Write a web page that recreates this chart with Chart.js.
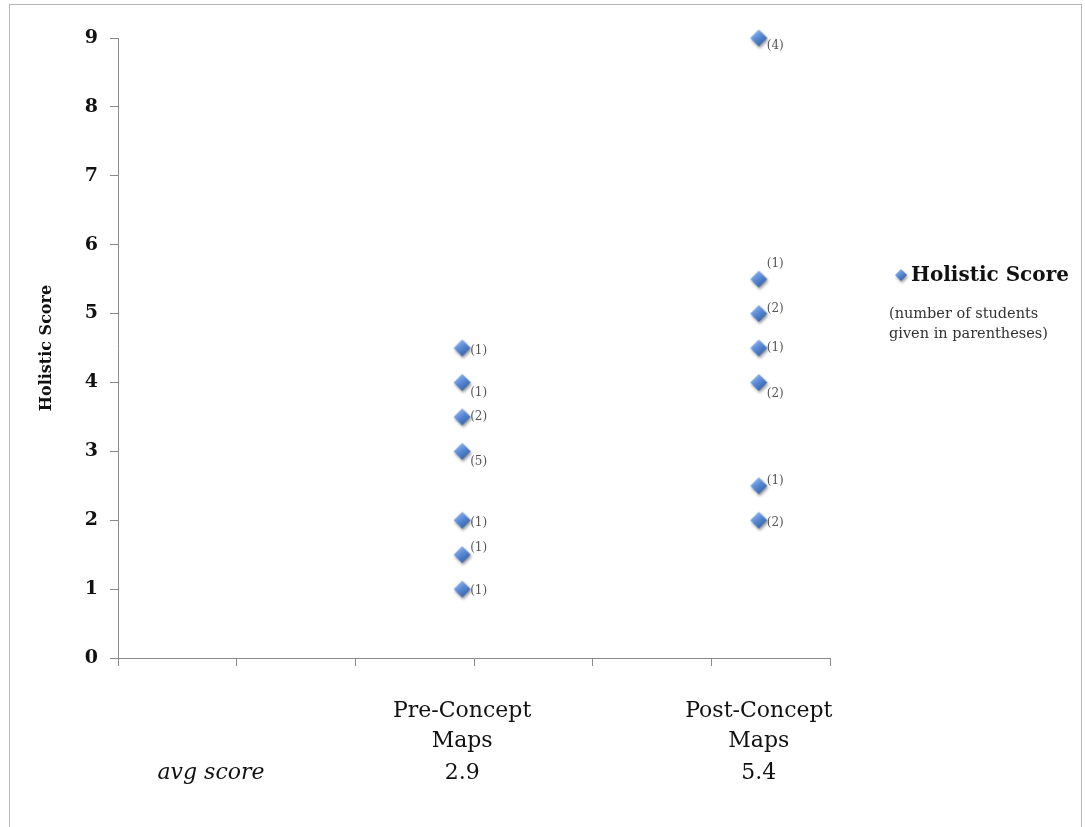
<!DOCTYPE html>
<html><head><meta charset="utf-8">
<script src="https://cdn.jsdelivr.net/npm/chart.js@4"></script>
<style>html,body{margin:0;padding:0;background:#fff}#wrap{position:relative;width:1085px;height:827px}</style>
</head><body><div id="wrap"><canvas id="c"></canvas></div>
<script>
// ---- data ----
const categories = [['Pre-Concept', 'Maps'], ['Post-Concept', 'Maps']];
const categoryX = [2.9, 5.4];
const preScores = [4.5, 4, 3.5, 3, 2, 1.5, 1];
const preCounts = [1, 1, 2, 5, 1, 1, 1];
const postScores = [9, 5.5, 5, 4.5, 4, 2.5, 2];
const postCounts = [4, 1, 2, 1, 2, 1, 2];
const yTickValues = [0, 1, 2, 3, 4, 5, 6, 7, 8, 9];
const seriesLabel = 'Holistic Score';
const yTitle = 'Holistic Score';
const legendNote = ['(number of students', 'given in parentheses)'];
const avgLabel = 'avg score';

// ---- label placement (style only) ----
const preLabelDy = [3, 10, 0, 11, 3, -7, 2];
const postLabelDy = [8, -15, -5, 0, 11, -5, 3];

const points = preScores.map(y => ({x: categoryX[0], y}))
  .concat(postScores.map(y => ({x: categoryX[1], y})));
const counts = preCounts.concat(postCounts);
const labelDy = preLabelDy.concat(postLabelDy);

function weightedAvg(s, c) {
  let t = 0, n = 0;
  s.forEach((v, i) => { t += v * c[i]; n += c[i]; });
  return t / n;
}
const averages = [weightedAvg(preScores, preCounts), weightedAvg(postScores, postCounts)];

const SERIF = "'DejaVu Serif', 'Liberation Serif', serif";

function makeDiamond(r) {
  const size = 2 * r + 10;
  const cv = document.createElement('canvas');
  cv.width = size; cv.height = size;
  const c = cv.getContext('2d');
  const cx = size / 2, cy = size / 2;
  c.shadowColor = 'rgba(0,0,0,0.4)';
  c.shadowBlur = 3;
  c.shadowOffsetX = 1;
  c.shadowOffsetY = 2;
  const g = c.createLinearGradient(cx - r * 0.7, cy - r, cx + r * 0.7, cy + r);
  g.addColorStop(0, '#a3c2f2');
  g.addColorStop(0.45, '#5b8bd7');
  g.addColorStop(1, '#2b589e');
  c.fillStyle = g;
  c.beginPath();
  c.moveTo(cx, cy - r); c.lineTo(cx + r, cy); c.lineTo(cx, cy + r); c.lineTo(cx - r, cy);
  c.closePath();
  c.fill();
  return cv;
}
const diamondImg = makeDiamond(8.5);
const legendDiamondImg = makeDiamond(6);

const framePlugin = {
  id: 'frame',
  beforeDraw(chart) {
    const c = chart.ctx;
    c.save();
    c.fillStyle = '#fff';
    c.fillRect(0, 0, chart.width, chart.height);
    c.strokeStyle = '#b8b8b8';
    c.lineWidth = 1;
    c.strokeRect(9.5, 4.5, 1072, 840);
    c.restore();
  }
};

const annotPlugin = {
  id: 'annot',
  afterDraw(chart) {
    const c = chart.ctx;
    const meta = chart.getDatasetMeta(0);
    const xs = chart.scales.x;
    const area = chart.chartArea;
    c.save();
    // count labels
    c.font = '12px ' + SERIF;
    c.fillStyle = '#555';
    c.textAlign = 'left';
    c.textBaseline = 'middle';
    meta.data.forEach((el, i) => {
      c.fillText('(' + counts[i] + ')', el.x + 8, el.y + labelDy[i]);
    });
    // category labels and averages
    c.fillStyle = '#111';
    c.textAlign = 'center';
    c.font = '22px ' + SERIF;
    categories.forEach((lines, i) => {
      const px = xs.getPixelForValue(categoryX[i]);
      lines.forEach((t, j) => c.fillText(t, px, area.bottom + 53 + j * 30));
      c.fillText(averages[i].toFixed(1), px, area.bottom + 115);
    });
    c.font = 'italic 22px ' + SERIF;
    c.fillText(avgLabel, area.left + 93, area.bottom + 115);
    // legend
    const lx = 901, ly = 275;
    c.drawImage(legendDiamondImg, lx - legendDiamondImg.width / 2, ly - legendDiamondImg.height / 2);
    c.fillStyle = '#111';
    c.textAlign = 'left';
    c.font = 'bold 20px ' + SERIF;
    c.fillText(chart.data.datasets[0].label, 911, ly + 1);
    c.fillStyle = '#333';
    c.font = '14.5px ' + SERIF;
    legendNote.forEach((t, j) => c.fillText(t, 889, 314 + j * 20));
    c.restore();
  }
};

new Chart(document.getElementById('c'), {
  type: 'scatter',
  data: {
    datasets: [{
      label: seriesLabel,
      data: points,
      pointStyle: diamondImg,
      pointRadius: 8,
      pointHoverRadius: 8,
      backgroundColor: '#5b8bd7',
      borderColor: '#3d6cb4',
      borderWidth: 0,
      clip: false
    }]
  },
  options: {
    responsive: true,
    maintainAspectRatio: false,
    animation: false,
    layout: {padding: {left: 0, top: 38, right: 255, bottom: 0}},
    plugins: {legend: {display: false}, tooltip: {enabled: false}},
    scales: {
      x: {
        type: 'linear', min: 0, max: 6,
        ticks: {display: false, stepSize: 1},
        grid: {drawOnChartArea: false, drawTicks: true, tickLength: 8, color: '#8a8a8a'},
        border: {color: '#8a8a8a', width: 1},
        afterFit(s) { s.height = 169; }
      },
      y: {
        type: 'linear', min: 0, max: 9,
        afterBuildTicks(s) { s.ticks = yTickValues.map(v => ({value: v})); },
        ticks: {padding: 12, color: '#111', font: {family: SERIF, size: 19, weight: 'bold'}},
        grid: {drawOnChartArea: false, drawTicks: true, tickLength: 8, color: '#8a8a8a'},
        border: {color: '#8a8a8a', width: 1},
        title: {display: true, text: yTitle, color: '#111', padding: {top: 37, bottom: 0},
                font: {family: SERIF, size: 16, weight: 'bold'}},
        afterFit(s) { s.width = 118; }
      }
    }
  },
  plugins: [framePlugin, annotPlugin]
});
</script>
</body></html>
